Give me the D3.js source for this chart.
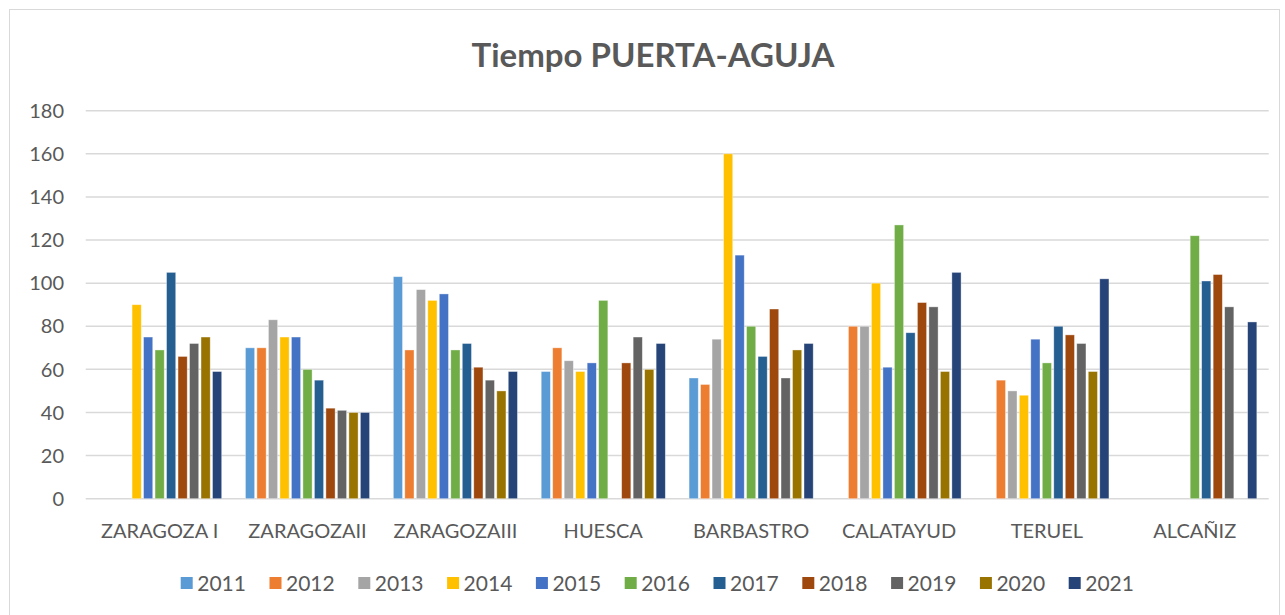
<!DOCTYPE html>
<html>
<head>
<meta charset="utf-8">
<script src="https://cdn.jsdelivr.net/npm/d3@7"></script>
<style>
  body { margin: 0; background: #fff; }
  text { font-family: Lato, "Open Sans", sans-serif; fill: #595959; }
</style>
</head>
<body>
<div id="chart"></div>
<script>
var categories = ["ZARAGOZA I", "ZARAGOZAII", "ZARAGOZAIII", "HUESCA", "BARBASTRO", "CALATAYUD", "TERUEL", "ALCAÑIZ"];
var years = ["2011", "2012", "2013", "2014", "2015", "2016", "2017", "2018", "2019", "2020", "2021"];
var yTicks = [0, 20, 40, 60, 80, 100, 120, 140, 160, 180];
var colors = ["#5B9BD5", "#ED7D31", "#A5A5A5", "#FFC000", "#4472C4", "#70AD47", "#255E91", "#9E480E", "#636363", "#997300", "#264478"];

// one array per year, values in category order (null = no bar)
var s2011 = [null, 70, 103, 59, 56, null, null, null];
var s2012 = [null, 70, 69, 70, 53, 80, 55, null];
var s2013 = [null, 83, 97, 64, 74, 80, 50, null];
var s2014 = [90, 75, 92, 59, 160, 100, 48, null];
var s2015 = [75, 75, 95, 63, 113, 61, 74, null];
var s2016 = [69, 60, 69, 92, 80, 127, 63, 122];
var s2017 = [105, 55, 72, null, 66, 77, 80, 101];
var s2018 = [66, 42, 61, 63, 88, 91, 76, 104];
var s2019 = [72, 41, 55, 75, 56, 89, 72, 89];
var s2020 = [75, 40, 50, 60, 69, 59, 59, null];
var s2021 = [59, 40, 59, 72, 72, 105, 102, 82];
var series = [s2011, s2012, s2013, s2014, s2015, s2016, s2017, s2018, s2019, s2020, s2021];

var width = 1285, height = 615;

var svg = d3.select("#chart").append("svg")
  .attr("width", width)
  .attr("height", height);

// chart frame
svg.append("rect")
  .attr("x", 9.5).attr("y", 9.5)
  .attr("width", 1270).attr("height", 640)
  .attr("fill", "#fff")
  .attr("stroke", "#d9d9d9");

var y = d3.scaleLinear()
  .domain([0, 180])
  .range([498.7, 110.7]);

var x0 = d3.scaleBand()
  .domain(categories)
  .range([85.7, 1268.7])
  .paddingInner(0.145)
  .paddingOuter(0.0725);

var x1 = d3.scaleBand()
  .domain(years)
  .range([0, x0.bandwidth()])
  .paddingInner(0.2)
  .paddingOuter(0.1);

// gridlines
svg.append("g").selectAll("line")
  .data(yTicks)
  .enter().append("line")
  .attr("x1", 85.7)
  .attr("x2", 1268.7)
  .attr("y1", function(d) { return y(d); })
  .attr("y2", function(d) { return y(d); })
  .attr("stroke", "#d9d9d9")
  .attr("stroke-width", 1.5);

// y labels
svg.append("g").selectAll("text")
  .data(yTicks)
  .enter().append("text")
  .attr("x", 64)
  .attr("y", function(d) { return y(d); })
  .attr("dy", "0.36em")
  .attr("text-anchor", "end")
  .attr("font-size", 20)
  .text(function(d) { return d; });

// bars
var groups = svg.append("g").selectAll("g")
  .data(years)
  .enter().append("g")
  .attr("fill", function(d, i) { return colors[i]; });

groups.selectAll("rect")
  .data(function(d, i) {
    return series[i].map(function(v, j) {
      return { year: d, cat: categories[j], value: v };
    }).filter(function(p) { return p.value != null; });
  })
  .enter().append("rect")
  .attr("x", function(d) { return x0(d.cat) + x1(d.year); })
  .attr("y", function(d) { return y(d.value); })
  .attr("width", x1.bandwidth())
  .attr("height", function(d) { return y(0) - y(d.value); })
  .attr("stroke", "#fff")
  .attr("stroke-opacity", 0.5)
  .attr("stroke-width", 0.75);

// x labels
svg.append("g").selectAll("text")
  .data(categories)
  .enter().append("text")
  .attr("x", function(d) { return x0(d) + x0.bandwidth() / 2; })
  .attr("y", 538)
  .attr("text-anchor", "middle")
  .attr("font-size", 20)
  .text(function(d) { return d; });

// title
svg.append("text")
  .attr("x", 653)
  .attr("y", 67)
  .attr("text-anchor", "middle")
  .attr("font-size", 33)
  .attr("font-weight", "bold")
  .text("Tiempo PUERTA-AGUJA");

// legend
var lx = d3.scaleBand()
  .domain(years)
  .range([180.7, 180.7 + 88.8 * years.length]);

var legend = svg.append("g").selectAll("g")
  .data(years)
  .enter().append("g")
  .attr("transform", function(d) { return "translate(" + lx(d) + ",0)"; });

legend.append("rect")
  .attr("x", 0).attr("y", 577)
  .attr("width", 12).attr("height", 12)
  .attr("fill", function(d, i) { return colors[i]; });

legend.append("text")
  .attr("x", 16.5)
  .attr("y", 590.5)
  .attr("font-size", 21)
  .text(function(d) { return d; });
</script>
</body>
</html>
